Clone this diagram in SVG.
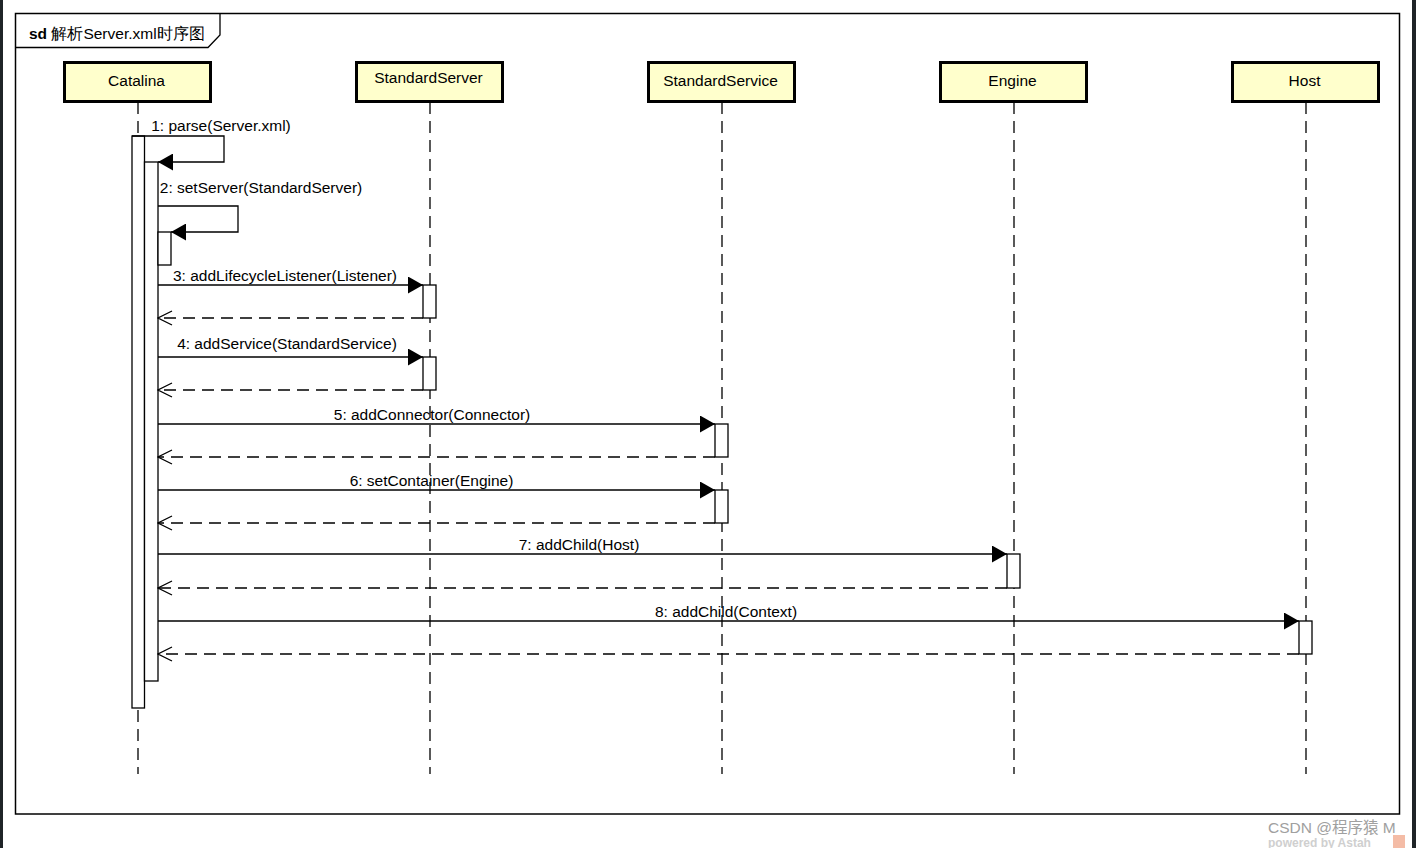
<svg xmlns="http://www.w3.org/2000/svg" width="1416" height="848" viewBox="0 0 1416 848">
<style>
text{font-family:"Liberation Sans",Arial,sans-serif;fill:#000}
.lbl{font-size:15.5px;text-anchor:middle}
.ht{font-size:15.5px;text-anchor:middle}
.head{fill:#ffffcc;stroke:#000;stroke-width:3}
.life{stroke:#000;stroke-width:1.3;stroke-dasharray:12,7;fill:none}
.act{fill:#fff;stroke:#000;stroke-width:1.3}
.msg{stroke:#000;stroke-width:1.3;fill:none;marker-end:url(#filled)}
.ret{stroke:#000;stroke-width:1.3;fill:none;stroke-dasharray:12,7;marker-end:url(#open)}
</style>
<defs>
<marker id="filled" viewBox="0 0 15 17" refX="15" refY="8.5" markerWidth="15" markerHeight="17" markerUnits="userSpaceOnUse" orient="auto">
<path d="M0,0 L15,8.5 L0,17 Z" fill="#000"/>
</marker>
<marker id="open" viewBox="-1 -1 16 16" refX="14" refY="7" markerWidth="16" markerHeight="16" markerUnits="userSpaceOnUse" orient="auto">
<path d="M0,0 L14,7 L0,14" fill="none" stroke="#000" stroke-width="1.3"/>
</marker>
</defs>
<rect x="0" y="0" width="1416" height="848" fill="#fff"/>
<rect x="0" y="0" width="3" height="848" fill="#1f2427"/>
<rect x="1412" y="0" width="4" height="848" fill="#1f2427"/>
<g id="frame">
<rect x="15.5" y="13.5" width="1384" height="800.5" fill="none" stroke="#000" stroke-width="1.5"/>
<path d="M15.5,47.5 H208 L220,35 V13.5" fill="none" stroke="#000" stroke-width="1.3"/>
<text x="29" y="39" font-size="15.5"><tspan font-weight="bold">sd</tspan> 解析Server.xml时序图</text>
</g>
<g id="lifelines">
<line class="life" x1="138" y1="102" x2="138" y2="774"/>
<line class="life" x1="430" y1="102" x2="430" y2="774"/>
<line class="life" x1="722" y1="102" x2="722" y2="774"/>
<line class="life" x1="1014" y1="102" x2="1014" y2="774"/>
<line class="life" x1="1306" y1="102" x2="1306" y2="774"/>
</g>
<g id="Catalina">
<rect class="head" x="64.5" y="62.5" width="146" height="39"/>
<text class="ht" x="136.5" y="86">Catalina</text>
</g>
<g id="StandardServer">
<rect class="head" x="356.5" y="62.5" width="146" height="39"/>
<text class="ht" x="428.5" y="83">StandardServer</text>
</g>
<g id="StandardService">
<rect class="head" x="648.5" y="62.5" width="146" height="39"/>
<text class="ht" x="720.5" y="86">StandardService</text>
</g>
<g id="Engine">
<rect class="head" x="940.5" y="62.5" width="146" height="39"/>
<text class="ht" x="1012.5" y="86">Engine</text>
</g>
<g id="Host">
<rect class="head" x="1232.5" y="62.5" width="146" height="39"/>
<text class="ht" x="1304.5" y="86">Host</text>
</g>
<g id="activations">
<rect class="act" x="132" y="136" width="12.5" height="572"/>
<rect class="act" x="144.5" y="162" width="13.5" height="519"/>
<rect class="act" x="158" y="232" width="13" height="33"/>
<rect class="act" x="423" y="285" width="13" height="33"/>
<rect class="act" x="423" y="357" width="13" height="33"/>
<rect class="act" x="715" y="424" width="13" height="33"/>
<rect class="act" x="715" y="490" width="13" height="33"/>
<rect class="act" x="1007" y="554" width="13" height="34"/>
<rect class="act" x="1299" y="621" width="13" height="33"/>
</g>
<g id="connectors">
<path class="msg" d="M132,136 H224 V162 H158"/>
<text class="lbl" x="221" y="131">1: parse(Server.xml)</text>
<path class="msg" d="M158,206 H238 V232 H171"/>
<text class="lbl" x="261" y="193">2: setServer(StandardServer)</text>
<line class="msg" x1="158" y1="285" x2="423" y2="285"/>
<text class="lbl" x="285" y="281">3: addLifecycleListener(Listener)</text>
<line class="ret" x1="423" y1="318" x2="158" y2="318"/>
<line class="msg" x1="158" y1="357" x2="423" y2="357"/>
<text class="lbl" x="287" y="349">4: addService(StandardService)</text>
<line class="ret" x1="423" y1="390" x2="158" y2="390"/>
<line class="msg" x1="158" y1="424" x2="715" y2="424"/>
<text class="lbl" x="432" y="420">5: addConnector(Connector)</text>
<line class="ret" x1="715" y1="457" x2="158" y2="457"/>
<line class="msg" x1="158" y1="490" x2="715" y2="490"/>
<text class="lbl" x="431.5" y="486">6: setContainer(Engine)</text>
<line class="ret" x1="715" y1="523" x2="158" y2="523"/>
<line class="msg" x1="158" y1="554" x2="1007" y2="554"/>
<text class="lbl" x="579" y="550">7: addChild(Host)</text>
<line class="ret" x1="1007" y1="588" x2="158" y2="588"/>
<line class="msg" x1="158" y1="621" x2="1299" y2="621"/>
<text class="lbl" x="726" y="617">8: addChild(Context)</text>
<line class="ret" x1="1299" y1="654" x2="158" y2="654"/>
</g>
<g id="watermark">
<text x="1268" y="833" font-size="15.5" style="fill:#a0a0a0;font-family:'Liberation Sans','Noto Sans CJK SC',sans-serif">CSDN @程序猿 M</text>
<text x="1268" y="847" font-size="12" font-weight="bold" style="fill:#cfcfcf">powered by Astah</text>
<rect x="1393" y="835" width="12" height="13" fill="#f0a080" opacity="0.7"/>
</g>
</svg>
